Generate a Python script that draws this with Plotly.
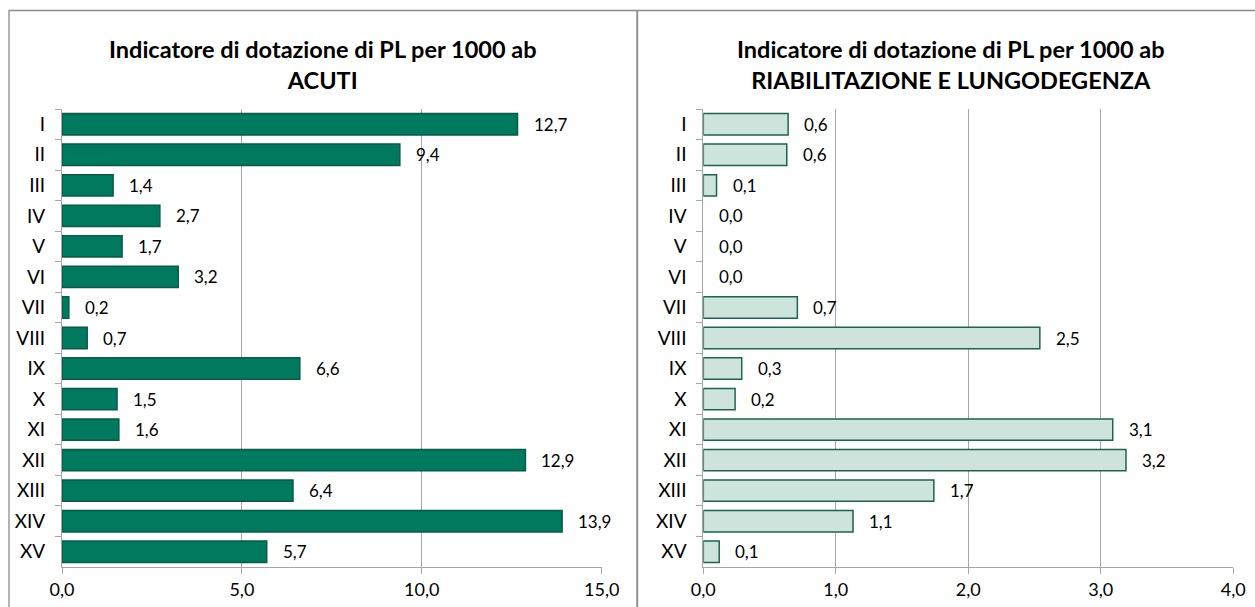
import plotly.graph_objects as go

W, H = 1255, 607

categories = ["I", "II", "III", "IV", "V", "VI", "VII", "VIII", "IX", "X",
              "XI", "XII", "XIII", "XIV", "XV"]
acuti = [12.66, 9.39, 1.42, 2.72, 1.67, 3.23, 0.19, 0.70, 6.61, 1.53,
         1.58, 12.88, 6.42, 13.90, 5.69]
riab = [0.64, 0.63, 0.10, 0.0, 0.0, 0.0, 0.71, 2.54, 0.29, 0.24,
        3.09, 3.19, 1.74, 1.13, 0.12]

title_left = ["Indicatore di dotazione di PL per 1000 ab", "ACUTI"]
title_right = ["Indicatore di dotazione di PL per 1000 ab", "RIABILITAZIONE E LUNGODEGENZA"]

FONT = "Lato, Calibri, Carlito, sans-serif"
GRID = "#a6a6a6"


def fmt(v):
    return f"{v:.1f}".replace(".", ",")


def px(x):
    return x / W


def py(y):
    return 1 - y / H


fig = go.Figure()
fig.add_trace(go.Bar(
    y=categories, x=acuti, orientation="h", xaxis="x", yaxis="y",
    marker=dict(color="#007A5E",
                line=dict(color="#0B5A47", width=[1.5 if v > 0 else 0 for v in acuti])),
    showlegend=False, hoverinfo="skip"))
fig.add_trace(go.Bar(
    y=categories, x=riab, orientation="h", xaxis="x2", yaxis="y2",
    marker=dict(color="#CDE3DB",
                line=dict(color="#1A6452", width=[1.5 if v > 0 else 0 for v in riab])),
    showlegend=False, hoverinfo="skip"))

annotations = []
for c, v in zip(categories, acuti):
    annotations.append(dict(x=v, y=c, xref="x", yref="y", text=fmt(v),
                            showarrow=False, xanchor="left", xshift=14,
                            font=dict(family=FONT, size=17, color="#000")))
for c, v in zip(categories, riab):
    annotations.append(dict(x=v, y=c, xref="x2", yref="y2", text=fmt(v),
                            showarrow=False, xanchor="left", xshift=14,
                            font=dict(family=FONT, size=17, color="#000")))


def title_text(lines):
    return "<br>".join("<b>" + s + "</b>" for s in lines)


annotations.append(dict(x=px(323), y=py(65), xref="paper", yref="paper",
                        text=title_text(title_left),
                        showarrow=False, xanchor="center", yanchor="middle",
                        font=dict(family=FONT, size=23.5, color="#000")))
annotations.append(dict(x=px(951), y=py(65), xref="paper", yref="paper",
                        text=title_text(title_right),
                        showarrow=False, xanchor="center", yanchor="middle",
                        font=dict(family=FONT, size=23.5, color="#000")))

ydom = [py(567), py(109)]
xcommon = dict(showgrid=True, gridcolor=GRID, gridwidth=1, zeroline=False,
               showline=True, linecolor=GRID, linewidth=1,
               ticks="outside", ticklen=6, tickcolor=GRID,
               tickformat=".1f", tickfont=dict(family=FONT, size=18, color="#000"),
               automargin=False, fixedrange=True)
ycommon = dict(autorange="reversed", showgrid=False, zeroline=False,
               showline=True, linecolor=GRID, linewidth=1,
               ticks="outside", ticklen=6, tickcolor=GRID, tickson="boundaries",
               ticklabelstandoff=12,
               tickfont=dict(family=FONT, size=19, color="#000"),
               domain=ydom, automargin=False, fixedrange=True)

fig.update_layout(
    width=W, height=H,
    margin=dict(l=0, r=0, t=0, b=0, autoexpand=False),
    paper_bgcolor="white", plot_bgcolor="white",
    separators=",.",
    bargap=0.3,
    xaxis=dict(xcommon, domain=[px(62), px(601.7)], range=[0, 15], dtick=5, anchor="y"),
    yaxis=dict(ycommon, anchor="x"),
    xaxis2=dict(xcommon, domain=[px(703.3), px(1233.3)], range=[0, 4], dtick=1, anchor="y2"),
    yaxis2=dict(ycommon, anchor="x2"),
    annotations=annotations,
    shapes=[
        dict(type="rect", xref="paper", yref="paper",
             x0=px(9), x1=px(637), y0=-0.05, y1=py(10.5),
             line=dict(color="#8c8c8c", width=1.3)),
        dict(type="rect", xref="paper", yref="paper",
             x0=px(637.5), x1=1.05, y0=-0.05, y1=py(10.5),
             line=dict(color="#8c8c8c", width=1.3)),
    ],
)

fig.write_html("out.html",
               config={"displayModeBar": False, "staticPlot": True},
               post_script="document.body.style.margin='0';document.body.style.overflow='hidden';")
